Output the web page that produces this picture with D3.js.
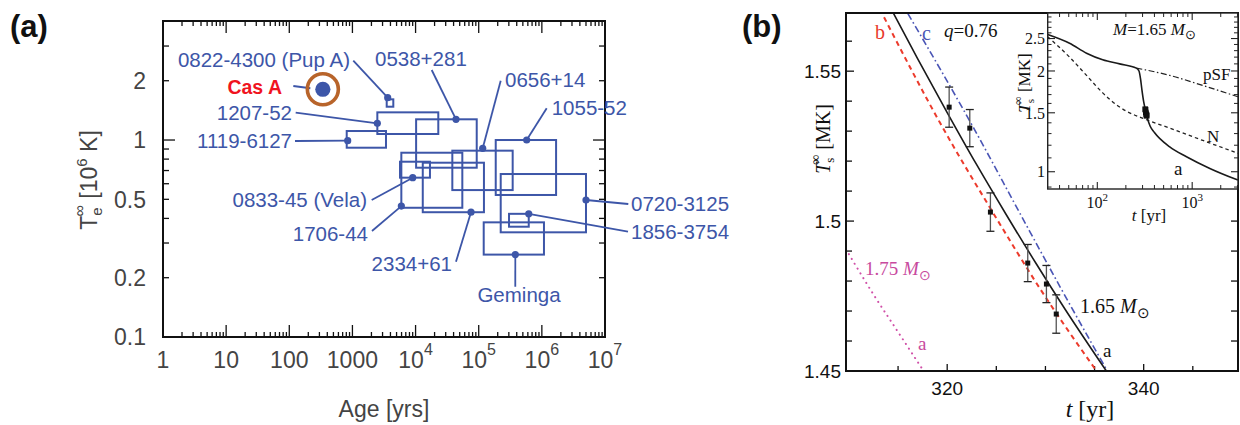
<!DOCTYPE html>
<html>
<head>
<meta charset="utf-8">
<script src="https://cdn.jsdelivr.net/npm/d3@7"></script>
<style>
  body { margin: 0; background: #fff; }
  svg { display: block; }
</style>
</head>
<body>
<svg id="chart" width="1240" height="425"></svg>
<script>
// ---------- Panel (a): surface temperature vs. age of isolated neutron stars ----------
const sourceNames  = ["0822-4300 (Pup A)", "1207-52", "1119-6127", "0538+281", "0656+14", "1055-52",
                      "0720-3125", "1856-3754", "Geminga", "2334+61", "1706-44", "0833-45 (Vela)"];
const sourceAge    = [3620, 2480, 842, 43700, 115700, 575000, 5.0e6, 620000, 380000, 75500, 5950, 9010];
const sourceAgeLo  = [3490, 2480, 812, 10200, 38200, 186000, 223000, 302000, 120000, 13000, 5950, 5670];
const sourceAgeHi  = [4440, 22900, 3400, 93000, 345000, 1.68e6, 5.0e6, 620000, 1.08e6, 121000, 55000, 16900];
const sourceTemp   = [1.64, 1.216, 0.992, 1.274, 0.908, 1.0, 0.496, 0.422, 0.262, 0.43, 0.462, 0.644];
const sourceTempLo = [1.476, 1.073, 0.914, 0.7235, 0.557, 0.526, 0.340, 0.363, 0.262, 0.43, 0.453, 0.644];
const sourceTempHi = [1.609, 1.382, 1.111, 1.274, 0.883, 1.0, 0.672, 0.422, 0.382, 0.767, 0.862, 0.776];

const casAName = "Cas A";
const casAAge  = 340;
const casATemp = 1.81;

const ageTickValues = [1, 10, 100, 1000, 1e4, 1e5, 1e6, 1e7];
const ageTickBase   = ["1", "10", "100", "1000", "10", "10", "10", "10"];
const ageTickExp    = ["", "", "", "", "4", "5", "6", "7"];
const tempTickValues = [0.1, 0.2, 0.5, 1, 2];
const tempTickLabels = ["0.1", "0.2", "0.5", "1", "2"];

// label placement for panel (a): text x, text centre y, anchor, leader start x, leader start y
const labelLayout = [
  [350, 60, "end", 353.3, 60.7],
  [292, 112.7, "end", 295.7, 112.7],
  [292, 140.5, "end", 295, 141],
  [375, 59, "start", 431.7, 70],
  [505, 80, "start", 500.7, 80.7],
  [551.7, 107.7, "start", 546.7, 108.3],
  [631, 204, "start", 628.3, 204],
  [631, 231.7, "start", 628, 231.7],
  [519, 295, "middle", 515.3, 286.7],
  [452, 263.3, "end", 456, 261.7],
  [368, 234, "end", 372, 231],
  [367, 200, "end", 371.7, 200]
];

// ---------- Panel (b): Cas A cooling, observations and model curves ----------
const obsYear = [320.2, 322.3, 324.4, 328.2, 330.1, 331.1];
const obsTemp = [1.538, 1.531, 1.503, 1.486, 1.479, 1.469];
const obsErr  = [0.0067, 0.0062, 0.0064, 0.0062, 0.0062, 0.0064];

const curveA_t = [314.5, 317, 320, 323, 326, 329, 332, 336.2];
const curveA_T = [1.5695, 1.5541, 1.5362, 1.5188, 1.5022, 1.4861, 1.4706, 1.45];
const curveB_t = [313.57, 319.3, 324.7, 329.5, 335.2];
const curveB_T = [1.568, 1.5326, 1.5026, 1.4772, 1.45];
const curveC_t = [316.0, 322.7, 327.5, 331.5, 336.3];
const curveC_T = [1.5692, 1.531, 1.502, 1.478, 1.45];
const curve175_t = [309.7, 311.0, 312.5, 314.5, 317.6];
const curve175_T = [1.4906, 1.4835, 1.4755, 1.4655, 1.45];

// inset: full cooling curves for M = 1.65 Msun
const insetA_t = [30, 51, 77, 114, 172, 258, 275, 285, 295, 308, 320, 336, 360, 400, 580, 871, 1535, 3035];
const insetA_T = [2.57, 2.42, 2.26, 2.16, 2.10, 2.04, 2.00, 1.90, 1.76, 1.62, 1.538, 1.45, 1.37, 1.31, 1.187, 1.109, 1.023, 0.944];
const insetN_t = [30, 51, 77, 114, 172, 329, 580, 1294, 3035];
const insetN_T = [2.53, 2.20, 1.94, 1.72, 1.56, 1.43, 1.35, 1.24, 1.135];
const insetPSF_t = [258, 580, 1294, 3035];
const insetPSF_T = [2.04, 1.94, 1.81, 1.675];

const bYTicks = [1.45, 1.5, 1.55];
const bYTickLabels = ["1.45", "1.5", "1.55"];
const bXTicks = [320, 340];
const bXTickLabels = ["320", "340"];
const insetYTicks = [1, 1.5, 2, 2.5];
const insetYTickLabels = ["1", "1.5", "2", "2.5"];
const insetXTicks = [100, 1000];
const insetXTickExp = ["2", "3"];

// ---------- drawing ----------
const SANS = "'Liberation Sans', Arial, Helvetica, sans-serif";
const SERIF = "'Liberation Serif', 'Times New Roman', serif";
const BLUE = "#3d56a8";
const svg = d3.select("#chart");

function tick(g, x1, y1, x2, y2, color, w) {
  g.append("line").attr("x1", x1).attr("y1", y1).attr("x2", x2).attr("y2", y2)
    .attr("stroke", color || "#111").attr("stroke-width", w || 1.3);
}

// panel letters
svg.append("text").attr("x", 10).attr("y", 37).attr("font-family", SANS)
  .attr("font-weight", "bold").attr("font-size", 31).attr("fill", "#111").text("(a)");
svg.append("text").attr("x", 742).attr("y", 37).attr("font-family", SANS)
  .attr("font-weight", "bold").attr("font-size", 31).attr("fill", "#111").text("(b)");

// ===== panel (a) =====
const xA = d3.scaleLog().domain([1, 1e7]).range([163, 605]);
const yA = d3.scaleLog().domain([0.1, 4.02]).range([337, 21]);
const gA = svg.append("g");

// ticks on all four sides
const ageMinor = [];
for (let e = 0; e < 7; e++) for (let m = 2; m <= 9; m++) ageMinor.push(m * Math.pow(10, e));
ageMinor.forEach(v => {
  tick(gA, xA(v), 337, xA(v), 332);
  tick(gA, xA(v), 21, xA(v), 26);
});
ageTickValues.forEach(v => {
  tick(gA, xA(v), 337, xA(v), 325);
  tick(gA, xA(v), 21, xA(v), 33);
});
const tempMinor = [0.2, 0.3, 0.4, 0.5, 0.6, 0.7, 0.8, 0.9, 2, 3];
tempMinor.forEach(v => {
  tick(gA, 163, yA(v), 169, yA(v));
  tick(gA, 605, yA(v), 599, yA(v));
});
[1].forEach(v => {
  tick(gA, 163, yA(v), 175, yA(v));
  tick(gA, 605, yA(v), 593, yA(v));
});
gA.append("rect").attr("x", 163).attr("y", 21).attr("width", 442).attr("height", 316)
  .attr("fill", "none").attr("stroke", "#111").attr("stroke-width", 2);

// tick labels
ageTickValues.forEach((v, i) => {
  const t = gA.append("text").attr("x", xA(v)).attr("y", 368).attr("text-anchor", "middle")
    .attr("font-family", SANS).attr("font-size", 23).attr("fill", "#444");
  t.append("tspan").text(ageTickBase[i]);
  if (ageTickExp[i]) t.append("tspan").attr("font-size", 16).attr("dy", -13).text(ageTickExp[i]);
});
tempTickValues.forEach((v, i) => {
  gA.append("text").attr("x", 146).attr("y", yA(v)).attr("dy", "0.36em").attr("text-anchor", "end")
    .attr("font-family", SANS).attr("font-size", 23).attr("fill", "#444").text(tempTickLabels[i]);
});

// axis titles
gA.append("text").attr("x", 384).attr("y", 417).attr("text-anchor", "middle")
  .attr("font-family", SANS).attr("font-size", 23).attr("fill", "#444").text("Age [yrs]");
const ylA = gA.append("text").attr("transform", "translate(97,180) rotate(-90)")
  .attr("text-anchor", "middle").attr("font-family", SANS).attr("font-size", 23).attr("fill", "#444");
ylA.append("tspan").text("T");
ylA.append("tspan").attr("font-size", 15).attr("dy", 5).text("e");
ylA.append("tspan").attr("font-size", 16).attr("dx", -9).attr("dy", -17).text("\u221E");
ylA.append("tspan").attr("dy", 12).text(" [10");
ylA.append("tspan").attr("font-size", 15).attr("dy", -10).text("6");
ylA.append("tspan").attr("dy", 10).text(" K]");

// error boxes
sourceNames.forEach((n, i) => {
  const x0 = xA(sourceAgeLo[i]), x1 = xA(sourceAgeHi[i]);
  const y0 = yA(sourceTempHi[i]), y1 = yA(sourceTempLo[i]);
  gA.append("rect").attr("x", x0).attr("y", y0).attr("width", x1 - x0).attr("height", y1 - y0)
    .attr("fill", "none").attr("stroke", BLUE).attr("stroke-width", 2);
});
// leaders, points, labels
sourceNames.forEach((n, i) => {
  const L = labelLayout[i];
  const px = xA(sourceAge[i]), py = yA(sourceTemp[i]);
  gA.append("line").attr("x1", L[3]).attr("y1", L[4]).attr("x2", px).attr("y2", py)
    .attr("stroke", BLUE).attr("stroke-width", 1.8);
  gA.append("circle").attr("cx", px).attr("cy", py).attr("r", 3.6).attr("fill", BLUE);
  gA.append("text").attr("x", L[0]).attr("y", L[1]).attr("dy", "0.36em").attr("text-anchor", L[2])
    .attr("font-family", SANS).attr("font-size", 20.5).attr("fill", BLUE).text(n);
});
// Cas A
const cx = xA(casAAge), cy = yA(casATemp);
gA.append("line").attr("x1", 293.3).attr("y1", 86).attr("x2", cx - 12.5).attr("y2", cy - 1)
  .attr("stroke", BLUE).attr("stroke-width", 1.8);
gA.append("circle").attr("cx", cx).attr("cy", cy).attr("r", 15.5).attr("fill", "none")
  .attr("stroke", "#b8642a").attr("stroke-width", 3.6);
gA.append("circle").attr("cx", cx).attr("cy", cy).attr("r", 7.6).attr("fill", BLUE);
gA.append("text").attr("x", 282).attr("y", 87).attr("dy", "0.36em").attr("text-anchor", "end")
  .attr("font-family", SANS).attr("font-weight", "bold").attr("font-size", 19.5).attr("fill", "#f0141e").text(casAName);

// ===== panel (b) =====
const xB = d3.scaleLinear().domain([309.7, 349.6]).range([846, 1238]);
const yB = d3.scaleLinear().domain([1.45, 1.5694]).range([371, 13]);
const gB = svg.append("g");

svg.append("defs").append("clipPath").attr("id", "clipB")
  .append("rect").attr("x", 846).attr("y", 13).attr("width", 392).attr("height", 358);

// ticks
[315, 325, 330, 335, 345].forEach(v => tick(gB, xB(v), 371, xB(v), 366));
bXTicks.forEach(v => tick(gB, xB(v), 371, xB(v), 364));
[1.46, 1.47, 1.48, 1.49, 1.51, 1.52, 1.53, 1.54, 1.56].forEach(v => tick(gB, 846, yB(v), 852, yB(v)));
bYTicks.forEach(v => tick(gB, 846, yB(v), 854, yB(v)));
[1.46, 1.47, 1.48, 1.49, 1.5].forEach(v => tick(gB, 1238, yB(v), 1231, yB(v)));

bYTickLabels.forEach((s, i) => {
  gB.append("text").attr("x", 841).attr("y", yB(bYTicks[i])).attr("dy", "0.36em").attr("text-anchor", "end")
    .attr("font-family", SANS).attr("font-size", 19).attr("fill", "#111").text(s);
});
bXTickLabels.forEach((s, i) => {
  gB.append("text").attr("x", xB(bXTicks[i])).attr("y", 395).attr("text-anchor", "middle")
    .attr("font-family", SANS).attr("font-size", 19).attr("fill", "#111").text(s);
});
const xtB = gB.append("text").attr("x", 1090).attr("y", 417).attr("text-anchor", "middle")
  .attr("font-family", SERIF).attr("font-size", 24).attr("fill", "#111");
xtB.append("tspan").attr("font-style", "italic").text("t");
xtB.append("tspan").text(" [yr]");
const ytB = gB.append("text").attr("transform", "translate(830,139) rotate(-90)").attr("text-anchor", "middle")
  .attr("font-family", SERIF).attr("font-size", 20).attr("fill", "#111");
ytB.append("tspan").attr("font-style", "italic").text("T");
ytB.append("tspan").attr("font-size", 13).attr("dy", 4).text("s");
ytB.append("tspan").attr("font-size", 14).attr("dx", -7).attr("dy", -14).text("\u221E");
ytB.append("tspan").attr("dy", 10).text(" [MK]");

// model curves
const lineB = d3.line().x(d => xB(d[0])).y(d => yB(d[1])).curve(d3.curveMonotoneX);
const curves = gB.append("g").attr("clip-path", "url(#clipB)");
curves.append("path").datum(d3.zip(curve175_t, curve175_T)).attr("d", lineB).attr("fill", "none")
  .attr("stroke", "#d050a8").attr("stroke-width", 2).attr("stroke-dasharray", "0.1,5.5").attr("stroke-linecap", "round");
curves.append("path").datum(d3.zip(curveB_t, curveB_T)).attr("d", lineB).attr("fill", "none")
  .attr("stroke", "#ec3b2c").attr("stroke-width", 2).attr("stroke-dasharray", "5,4");
curves.append("path").datum(d3.zip(curveC_t, curveC_T)).attr("d", lineB).attr("fill", "none")
  .attr("stroke", "#4a55b5").attr("stroke-width", 1.6).attr("stroke-dasharray", "7,3,1.6,3");
curves.append("path").datum(d3.zip(curveA_t, curveA_T)).attr("d", lineB).attr("fill", "none")
  .attr("stroke", "#1a1a1a").attr("stroke-width", 1.6);

// observations with error bars
obsYear.forEach((t, i) => {
  const x = xB(t), yT = yB(obsTemp[i] + obsErr[i]), yL = yB(obsTemp[i] - obsErr[i]);
  gB.append("line").attr("x1", x).attr("x2", x).attr("y1", yT).attr("y2", yL).attr("stroke", "#555").attr("stroke-width", 1.3);
  gB.append("line").attr("x1", x - 4).attr("x2", x + 4).attr("y1", yT).attr("y2", yT).attr("stroke", "#222").attr("stroke-width", 1.3);
  gB.append("line").attr("x1", x - 4).attr("x2", x + 4).attr("y1", yL).attr("y2", yL).attr("stroke", "#222").attr("stroke-width", 1.3);
  gB.append("rect").attr("x", x - 2.5).attr("y", yB(obsTemp[i]) - 2.5).attr("width", 5).attr("height", 5).attr("fill", "#111");
});

// frame of panel (b)
gB.append("rect").attr("x", 846).attr("y", 13).attr("width", 392).attr("height", 358)
  .attr("fill", "none").attr("stroke", "#111").attr("stroke-width", 2);

// curve annotations
function massLabel(g, x, y, txt, color, size) {
  const t = g.append("text").attr("x", x).attr("y", y).attr("font-family", SERIF)
    .attr("font-size", size).attr("fill", color);
  t.append("tspan").text(txt + " ");
  t.append("tspan").attr("font-style", "italic").text("M");
  t.append("tspan").attr("font-size", size * 0.75).attr("dy", 5).text("\u2299");
  return t;
}
gB.append("text").attr("x", 875).attr("y", 39).attr("font-family", SERIF).attr("font-size", 20).attr("fill", "#e8392c").text("b");
gB.append("text").attr("x", 922).attr("y", 40).attr("font-family", SERIF).attr("font-size", 20).attr("fill", "#4a55b5").text("c");
const qL = gB.append("text").attr("x", 944).attr("y", 37).attr("font-family", SERIF).attr("font-size", 19).attr("fill", "#111");
qL.append("tspan").attr("font-style", "italic").text("q");
qL.append("tspan").text("=0.76");
massLabel(gB, 1080, 313, "1.65", "#111", 20);
gB.append("text").attr("x", 1103).attr("y", 357).attr("font-family", SERIF).attr("font-size", 19).attr("fill", "#111").text("a");
massLabel(gB, 865, 275, "1.75", "#c84a9e", 19);
gB.append("text").attr("x", 918).attr("y", 350).attr("font-family", SERIF).attr("font-size", 19).attr("fill", "#c84a9e").text("a");

// ===== inset =====
const xI = d3.scaleLog().domain([30, 3040]).range([1047.7, 1238]);
const yI = d3.scaleLog().domain([0.888, 2.98]).range([189, 13]);
const gI = svg.append("g");
gI.append("rect").attr("x", 1047.7).attr("y", 13).attr("width", 190.3).attr("height", 176).attr("fill", "#fff");

const insetXMinor = [40, 50, 60, 70, 80, 90, 200, 300, 400, 500, 600, 700, 800, 900, 2000, 3000];
insetXMinor.forEach(v => { tick(gI, xI(v), 189, xI(v), 185, "#222", 1); tick(gI, xI(v), 13, xI(v), 17, "#222", 1); });
insetXTicks.forEach(v => { tick(gI, xI(v), 189, xI(v), 182, "#222", 1.1); tick(gI, xI(v), 13, xI(v), 20, "#222", 1.1); });
const insetYMinor = [0.9, 1.1, 1.2, 1.3, 1.4, 1.6, 1.7, 1.8, 1.9, 2.1, 2.2, 2.3, 2.4, 2.6, 2.7, 2.8, 2.9];
insetYMinor.forEach(v => { tick(gI, 1047.7, yI(v), 1051.5, yI(v), "#222", 1); tick(gI, 1238, yI(v), 1234, yI(v), "#222", 1); });
insetYTicks.forEach(v => { tick(gI, 1047.7, yI(v), 1055, yI(v), "#222", 1.1); tick(gI, 1238, yI(v), 1231, yI(v), "#222", 1.1); });

const lineI = d3.line().x(d => xI(d[0])).y(d => yI(d[1])).curve(d3.curveMonotoneX);
gI.append("path").datum(d3.zip(insetN_t, insetN_T)).attr("d", lineI).attr("fill", "none")
  .attr("stroke", "#222").attr("stroke-width", 1.3).attr("stroke-dasharray", "3.5,3");
gI.append("path").datum(d3.zip(insetPSF_t, insetPSF_T)).attr("d", lineI).attr("fill", "none")
  .attr("stroke", "#222").attr("stroke-width", 1.2).attr("stroke-dasharray", "6,2.5,1.5,2.5");
gI.append("path").datum(d3.zip(insetA_t, insetA_T)).attr("d", lineI).attr("fill", "none")
  .attr("stroke", "#1a1a1a").attr("stroke-width", 1.6);
obsYear.forEach((t, i) => {
  gI.append("rect").attr("x", xI(t) - 2.8).attr("y", yI(obsTemp[i]) - 2.8).attr("width", 5.6).attr("height", 5.6).attr("fill", "#111");
});
gI.append("rect").attr("x", 1047.7).attr("y", 13).attr("width", 190.3).attr("height", 176)
  .attr("fill", "none").attr("stroke", "#222").attr("stroke-width", 1.4);

insetYTickLabels.forEach((s, i) => {
  gI.append("text").attr("x", 1045).attr("y", yI(insetYTicks[i])).attr("dy", "0.36em").attr("text-anchor", "end")
    .attr("font-family", SERIF).attr("font-size", 16).attr("fill", "#111").text(s);
});
insetXTicks.forEach((v, i) => {
  const t = gI.append("text").attr("x", xI(v)).attr("y", 208).attr("text-anchor", "middle")
    .attr("font-family", SERIF).attr("font-size", 16).attr("fill", "#111");
  t.append("tspan").text("10");
  t.append("tspan").attr("font-size", 11).attr("dy", -7).text(insetXTickExp[i]);
});
const xtI = gI.append("text").attr("x", 1149).attr("y", 221).attr("text-anchor", "middle")
  .attr("font-family", SERIF).attr("font-size", 17).attr("fill", "#111");
xtI.append("tspan").attr("font-style", "italic").text("t");
xtI.append("tspan").text(" [yr]");
const ytI = gI.append("text").attr("transform", "translate(1030,83) rotate(-90)").attr("text-anchor", "middle")
  .attr("font-family", SERIF).attr("font-size", 17).attr("fill", "#111");
ytI.append("tspan").attr("font-style", "italic").text("T");
ytI.append("tspan").attr("font-size", 11).attr("dy", 4).text("s");
ytI.append("tspan").attr("font-size", 12).attr("dx", -6).attr("dy", -12).text("\u221E");
ytI.append("tspan").attr("dy", 8).text(" [MK]");

const mT = gI.append("text").attr("x", 1113).attr("y", 35).attr("font-family", SERIF).attr("font-size", 17).attr("fill", "#111");
mT.append("tspan").attr("font-style", "italic").text("M");
mT.append("tspan").text("=1.65 ");
mT.append("tspan").attr("font-style", "italic").text("M");
mT.append("tspan").attr("font-size", 13).attr("dy", 4).text("\u2299");
gI.append("text").attr("x", 1203).attr("y", 80).attr("font-family", SERIF).attr("font-size", 17).attr("fill", "#111").text("pSF");
gI.append("text").attr("x", 1207).attr("y", 142).attr("font-family", SERIF).attr("font-size", 17).attr("fill", "#111").text("N");
gI.append("text").attr("x", 1174).attr("y", 175).attr("font-family", SERIF).attr("font-size", 19).attr("fill", "#111").text("a");
</script>
</body>
</html>
